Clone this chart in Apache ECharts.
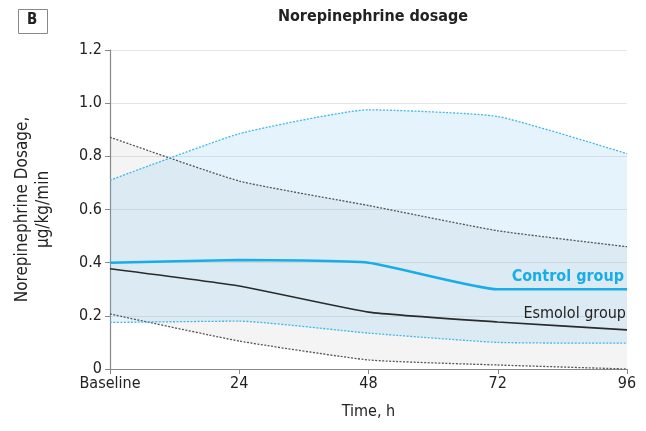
<!DOCTYPE html>
<html><head><meta charset="utf-8">
<script src="https://cdn.jsdelivr.net/npm/echarts@6/dist/echarts.min.js"></script>
<style>html,body{margin:0;padding:0;background:#fff}#c{width:646px;height:431px}</style>
</head><body><div id="c"></div>
<script>
const categories = ['Baseline', '24', '48', '72', '96'];
const controlMean  = [0.40, 0.41, 0.40, 0.30, 0.30];
const controlUpper = [0.71, 0.885, 0.975, 0.95, 0.81];
const controlLower = [0.175, 0.18, 0.135, 0.10, 0.097];
const esmololMean  = [0.377, 0.312, 0.214, 0.177, 0.147];
const esmololUpper = [0.872, 0.707, 0.615, 0.52, 0.46];
const esmololLower = [0.207, 0.105, 0.034, 0.015, 0.0];
const yTicks = [0, 0.2, 0.4, 0.6, 0.8, 1.0, 1.2];

const FONT = '"DejaVu Sans Condensed", "DejaVu Sans", sans-serif';
const diff = (u, l) => u.map((v, i) => +(v - l[i]).toFixed(4));
const SM = 0.15;

const chart = echarts.init(document.getElementById('c'), null, {renderer: 'canvas'});
chart.setOption({
  animation: false,
  textStyle: {fontFamily: FONT},
  title: {text: 'Norepinephrine dosage', left: 368, top: 4, textAlign: 'center',
    textStyle: {fontFamily: FONT, fontSize: 16, fontWeight: 'bold', color: '#222'}},
  graphic: [
    {type: 'rect', left: 18, top: 9, shape: {width: 29, height: 24},
      style: {fill: '#fff', stroke: '#888', lineWidth: 1}},
    {type: 'text', left: 27, top: 13, style: {text: 'B', font: 'bold 15px ' + FONT, fill: '#222'}}
  ],
  grid: {left: 110, right: 19, top: 50, bottom: 62},
  xAxis: {
    type: 'category', data: categories, boundaryGap: false,
    name: 'Time, h', nameLocation: 'middle', nameGap: 35,
    nameTextStyle: {fontFamily: FONT, fontSize: 16, color: '#222'},
    axisLine: {lineStyle: {color: '#888', width: 1.2}},
    axisTick: {show: true, length: 5, lineStyle: {color: '#888'}},
    axisLabel: {fontFamily: FONT, fontSize: 16, color: '#222', margin: 7},
    splitLine: {show: false}
  },
  yAxis: {
    type: 'value', min: 0, max: 1.2, interval: 0.2,
    name: 'Norepinephrine Dosage,\nμg/kg/min', nameLocation: 'middle', nameGap: 56,
    nameTextStyle: {fontFamily: FONT, fontSize: 17, color: '#222', lineHeight: 21},
    axisLine: {show: true, lineStyle: {color: '#888', width: 1.2}},
    axisTick: {show: true, length: 5, lineStyle: {color: '#888'}},
    axisLabel: {fontFamily: FONT, fontSize: 16, color: '#222', margin: 8,
      formatter: v => { const t = yTicks.find(x => Math.abs(x - v) < 1e-6); return t === 0 ? '0' : t.toFixed(1); }},
    splitLine: {show: true, lineStyle: {color: '#e6e6e6', width: 1}}
  },
  series: [
    {type: 'line', stack: 'esm', data: esmololLower, symbol: 'none', smooth: SM,
      lineStyle: {opacity: 0}, silent: true},
    {type: 'line', stack: 'esm', data: diff(esmololUpper, esmololLower), symbol: 'none', smooth: SM,
      lineStyle: {opacity: 0}, areaStyle: {color: 'rgba(110,110,110,0.11)'}, silent: true},
    {type: 'line', stack: 'ctl', data: controlLower, symbol: 'none', smooth: SM,
      lineStyle: {opacity: 0}, silent: true},
    {type: 'line', stack: 'ctl', data: diff(controlUpper, controlLower), symbol: 'none', smooth: SM,
      lineStyle: {opacity: 0}, areaStyle: {color: 'rgba(110,195,240,0.25)'}, silent: true},
    {type: 'line', data: esmololUpper, symbol: 'none', smooth: SM,
      lineStyle: {color: '#555', width: 1.3, type: [2, 1.5]}},
    {type: 'line', data: esmololLower, symbol: 'none', smooth: SM,
      lineStyle: {color: '#555', width: 1.3, type: [2, 1.5]}},
    {type: 'line', data: controlUpper, symbol: 'none', smooth: SM,
      lineStyle: {color: '#3fb7ea', width: 1.3, type: [2, 1.5]}},
    {type: 'line', data: controlLower, symbol: 'none', smooth: SM,
      lineStyle: {color: '#3fb7ea', width: 1.3, type: [2, 1.5]}},
    {type: 'line', name: 'Esmolol group', symbol: 'none', smooth: SM,
      lineStyle: {color: '#2a2a2a', width: 1.6}, data: esmololMean,
      endLabel: {show: true, formatter: 'Esmolol group', align: 'right', verticalAlign: 'bottom',
        offset: [-9, -8], fontFamily: FONT, fontSize: 16, color: '#222'}},
    {type: 'line', name: 'Control group', symbol: 'none', smooth: SM,
      lineStyle: {color: '#18ade8', width: 2.5}, data: controlMean,
      endLabel: {show: true, formatter: 'Control group', align: 'right', verticalAlign: 'bottom',
        offset: [-11, -4], fontFamily: FONT, fontSize: 16, color: '#18ade8', fontWeight: 'bold'}}
  ]
});
</script></body></html>
